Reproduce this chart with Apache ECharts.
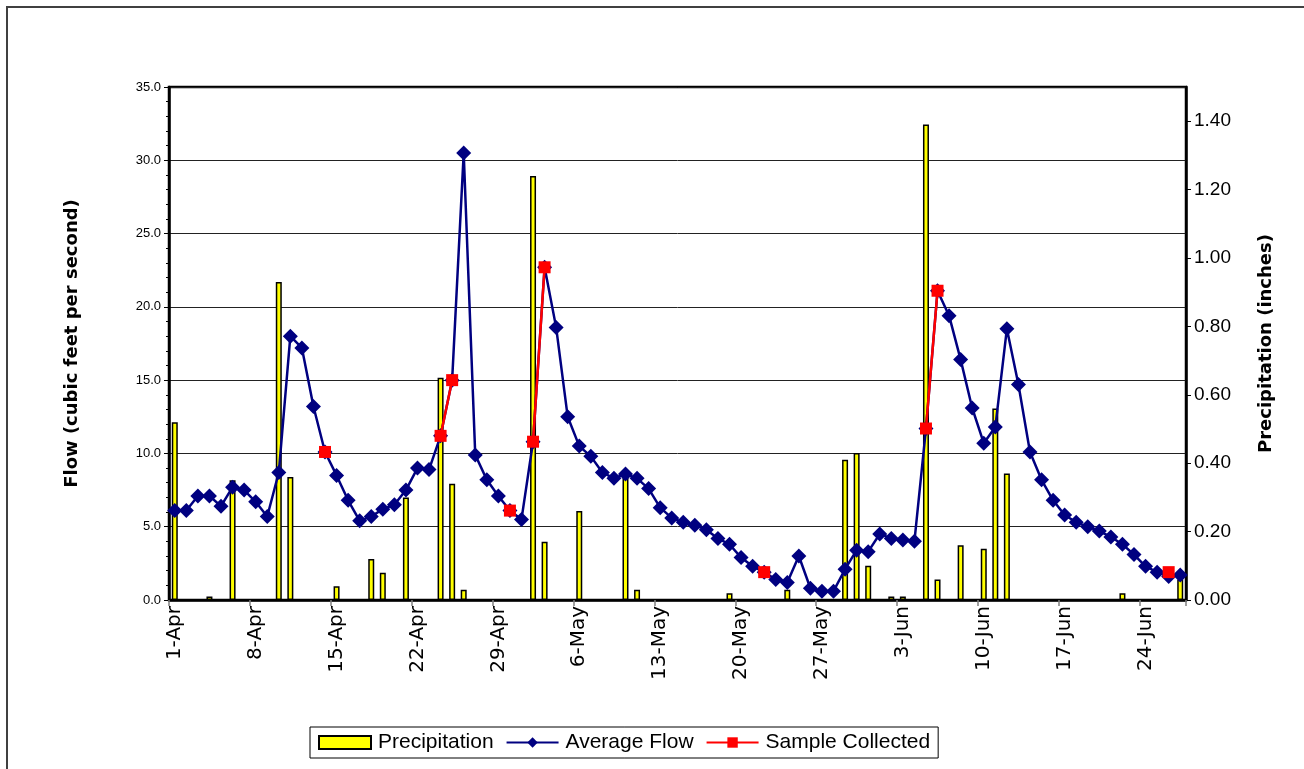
<!DOCTYPE html>
<html>
<head>
<meta charset="utf-8">
<script src="https://cdn.jsdelivr.net/npm/echarts@6/dist/echarts.min.js"></script>
<style>
html,body{margin:0;padding:0;background:#fff;}
#chart{width:1304px;height:769px;}
</style>
</head>
<body>
<div id="chart"></div>
<script>
// Categories: daily dates 1-Apr .. 27-Jun
const categories = [
"1-Apr","2-Apr","3-Apr","4-Apr","5-Apr","6-Apr","7-Apr","8-Apr","9-Apr","10-Apr",
"11-Apr","12-Apr","13-Apr","14-Apr","15-Apr","16-Apr","17-Apr","18-Apr","19-Apr","20-Apr",
"21-Apr","22-Apr","23-Apr","24-Apr","25-Apr","26-Apr","27-Apr","28-Apr","29-Apr","30-Apr",
"1-May","2-May","3-May","4-May","5-May","6-May","7-May","8-May","9-May","10-May",
"11-May","12-May","13-May","14-May","15-May","16-May","17-May","18-May","19-May","20-May",
"21-May","22-May","23-May","24-May","25-May","26-May","27-May","28-May","29-May","30-May","31-May",
"1-Jun","2-Jun","3-Jun","4-Jun","5-Jun","6-Jun","7-Jun","8-Jun","9-Jun","10-Jun",
"11-Jun","12-Jun","13-Jun","14-Jun","15-Jun","16-Jun","17-Jun","18-Jun","19-Jun","20-Jun",
"21-Jun","22-Jun","23-Jun","24-Jun","25-Jun","26-Jun","27-Jun"
];

// Precipitation (inches), right axis
const precipitation = [
0.52,0,0,0.01,0,0.35,0,0,0,0.93,
0.36,0,0,0,0.04,0,0,0.12,0.08,0,
0.30,0,0,0.65,0.34,0.03,0,0,0,0,
0,1.24,0.17,0,0,0.26,0,0,0,0.36,
0.03,0,0,0,0,0,0,0,0.02,0,
0,0,0,0.03,0,0,0,0,0.41,0.43,0.10,
0,0.01,0.01,0,1.39,0.06,0,0.16,0,0.15,
0.56,0.37,0,0,0,0,0,0,0,0,
0,0.02,0,0,0,0,0.06
];

// Average flow (cfs), left axis
const averageFlow = [
6.1,6.1,7.1,7.1,6.4,7.7,7.5,6.7,5.7,8.7,
18.0,17.2,13.2,10.1,8.5,6.8,5.4,5.7,6.2,6.5,
7.5,9.0,8.9,11.2,15.0,30.5,9.9,8.2,7.1,6.1,
5.5,10.8,22.7,18.6,12.5,10.5,9.8,8.7,8.3,8.6,
8.3,7.6,6.3,5.6,5.3,5.1,4.8,4.2,3.8,2.9,
2.3,1.9,1.4,1.2,3.0,0.8,0.6,0.6,2.1,3.4,3.3,
4.5,4.2,4.1,4.0,11.7,21.1,19.4,16.4,13.1,10.7,
11.8,18.5,14.7,10.1,8.2,6.8,5.8,5.3,5.0,4.7,
4.3,3.8,3.1,2.3,1.9,1.6,1.7
];

// Sample collected (flow on sampling days), null = no sample
const sampleCollected = [
null,null,null,null,null,null,null,null,null,null,
null,null,null,10.1,null,null,null,null,null,null,
null,null,null,11.2,15.0,null,null,null,null,6.1,
null,10.8,22.7,null,null,null,null,null,null,null,
null,null,null,null,null,null,null,null,null,null,
null,1.9,null,null,null,null,null,null,null,null,null,
null,null,null,null,11.7,21.1,null,null,null,null,
null,null,null,null,null,null,null,null,null,null,
null,null,null,null,null,1.9,null,null
];

const leftTicks = {min: 0, max: 35, interval: 5};
const rightTicks = {min: 0, max: 1.5, interval: 0.2};

const chart = echarts.init(document.getElementById('chart'), null, {renderer: 'canvas'});
const AR = 'Liberation Sans, Arial, sans-serif';

chart.setOption({
  backgroundColor: '#ffffff',
  animation: false,
  graphic: [{
    type: 'rect', silent: true, z: -10,
    shape: {x: 7, y: 7, width: 1400, height: 900},
    style: {fill: 'none', stroke: '#404040', lineWidth: 2}
  }],
  legend: {
    left: 310, top: 727,
    padding: [5, 8, 5, 8],
    itemGap: 12,
    itemWidth: 52, itemHeight: 13,
    borderColor: '#000', borderWidth: 1,
    textStyle: {fontFamily: AR, fontSize: 21, color: '#000', padding: [0, 0, 0, 2]},
    data: [{name: 'Precipitation', icon: 'rect'}, {name: 'Average Flow'}, {name: 'Sample Collected'}]
  },
  grid: {
    left: 169, right: 118, top: 87, bottom: 169,
    show: true, borderColor: '#000', borderWidth: 2.5, backgroundColor: '#fff'
  },
  xAxis: {
    type: 'category',
    data: categories,
    boundaryGap: true,
    axisLine: {lineStyle: {color: '#000', width: 2.5}},
    axisTick: {show: true, interval: 6, length: 6, lineStyle: {color: '#808080', width: 1.5}},
    axisLabel: {interval: 6, rotate: 90, margin: 6, color: '#000', fontFamily: 'DejaVu Sans', fontSize: 20},
    splitLine: {show: false}
  },
  yAxis: [{
    type: 'value',
    min: leftTicks.min, max: leftTicks.max, interval: leftTicks.interval,
    position: 'left',
    name: 'Flow (cubic feet per second)',
    nameLocation: 'middle', nameRotate: 90, nameGap: 88,
    nameTextStyle: {fontFamily: 'DejaVu Sans', fontWeight: 'bold', fontSize: 18, color: '#000'},
    axisLine: {show: true, lineStyle: {color: '#000', width: 2.5}},
    axisTick: {show: true, length: 5, lineStyle: {color: '#000', width: 1}},
    minorTick: {show: true, splitNumber: 5, length: 3, lineStyle: {color: '#000', width: 1}},
    axisLabel: {fontFamily: AR, fontSize: 13, color: '#000', margin: 8, formatter: v => v.toFixed(1)},
    splitLine: {show: true, lineStyle: {color: '#222', width: 1}}
  }, {
    type: 'value',
    min: rightTicks.min, max: rightTicks.max, interval: rightTicks.interval,
    position: 'right',
    name: 'Precipitation (inches)',
    nameLocation: 'middle', nameRotate: 90, nameGap: 71,
    nameTextStyle: {fontFamily: 'DejaVu Sans', fontWeight: 'bold', fontSize: 18, color: '#000'},
    axisLine: {show: true, lineStyle: {color: '#000', width: 2.5}},
    axisTick: {show: true, length: 5, lineStyle: {color: '#000', width: 1}},
    axisLabel: {fontFamily: AR, fontSize: 19, color: '#000', margin: 8, showMaxLabel: false, formatter: v => v.toFixed(2)},
    splitLine: {show: false}
  }],
  series: [{
    name: 'Precipitation',
    type: 'bar',
    yAxisIndex: 1,
    barWidth: 6,
    data: precipitation.map(v => v > 0 ? v : null),
    itemStyle: {color: '#FFFF00', borderColor: '#000', borderWidth: 1.5},
    z: 2
  }, {
    name: 'Average Flow',
    type: 'line',
    yAxisIndex: 0,
    data: averageFlow,
    showSymbol: true, showAllSymbol: true,
    symbol: 'diamond', symbolSize: 15,
    lineStyle: {color: '#000080', width: 2.5},
    itemStyle: {color: '#000080'},
    z: 3
  }, {
    name: 'Sample Collected',
    type: 'line',
    yAxisIndex: 0,
    data: sampleCollected,
    connectNulls: false,
    showSymbol: true, showAllSymbol: true,
    symbol: 'rect', symbolSize: 12,
    lineStyle: {color: '#FF0000', width: 2.5},
    itemStyle: {color: '#FF0000'},
    z: 4
  }]
});
</script>
</body>
</html>
